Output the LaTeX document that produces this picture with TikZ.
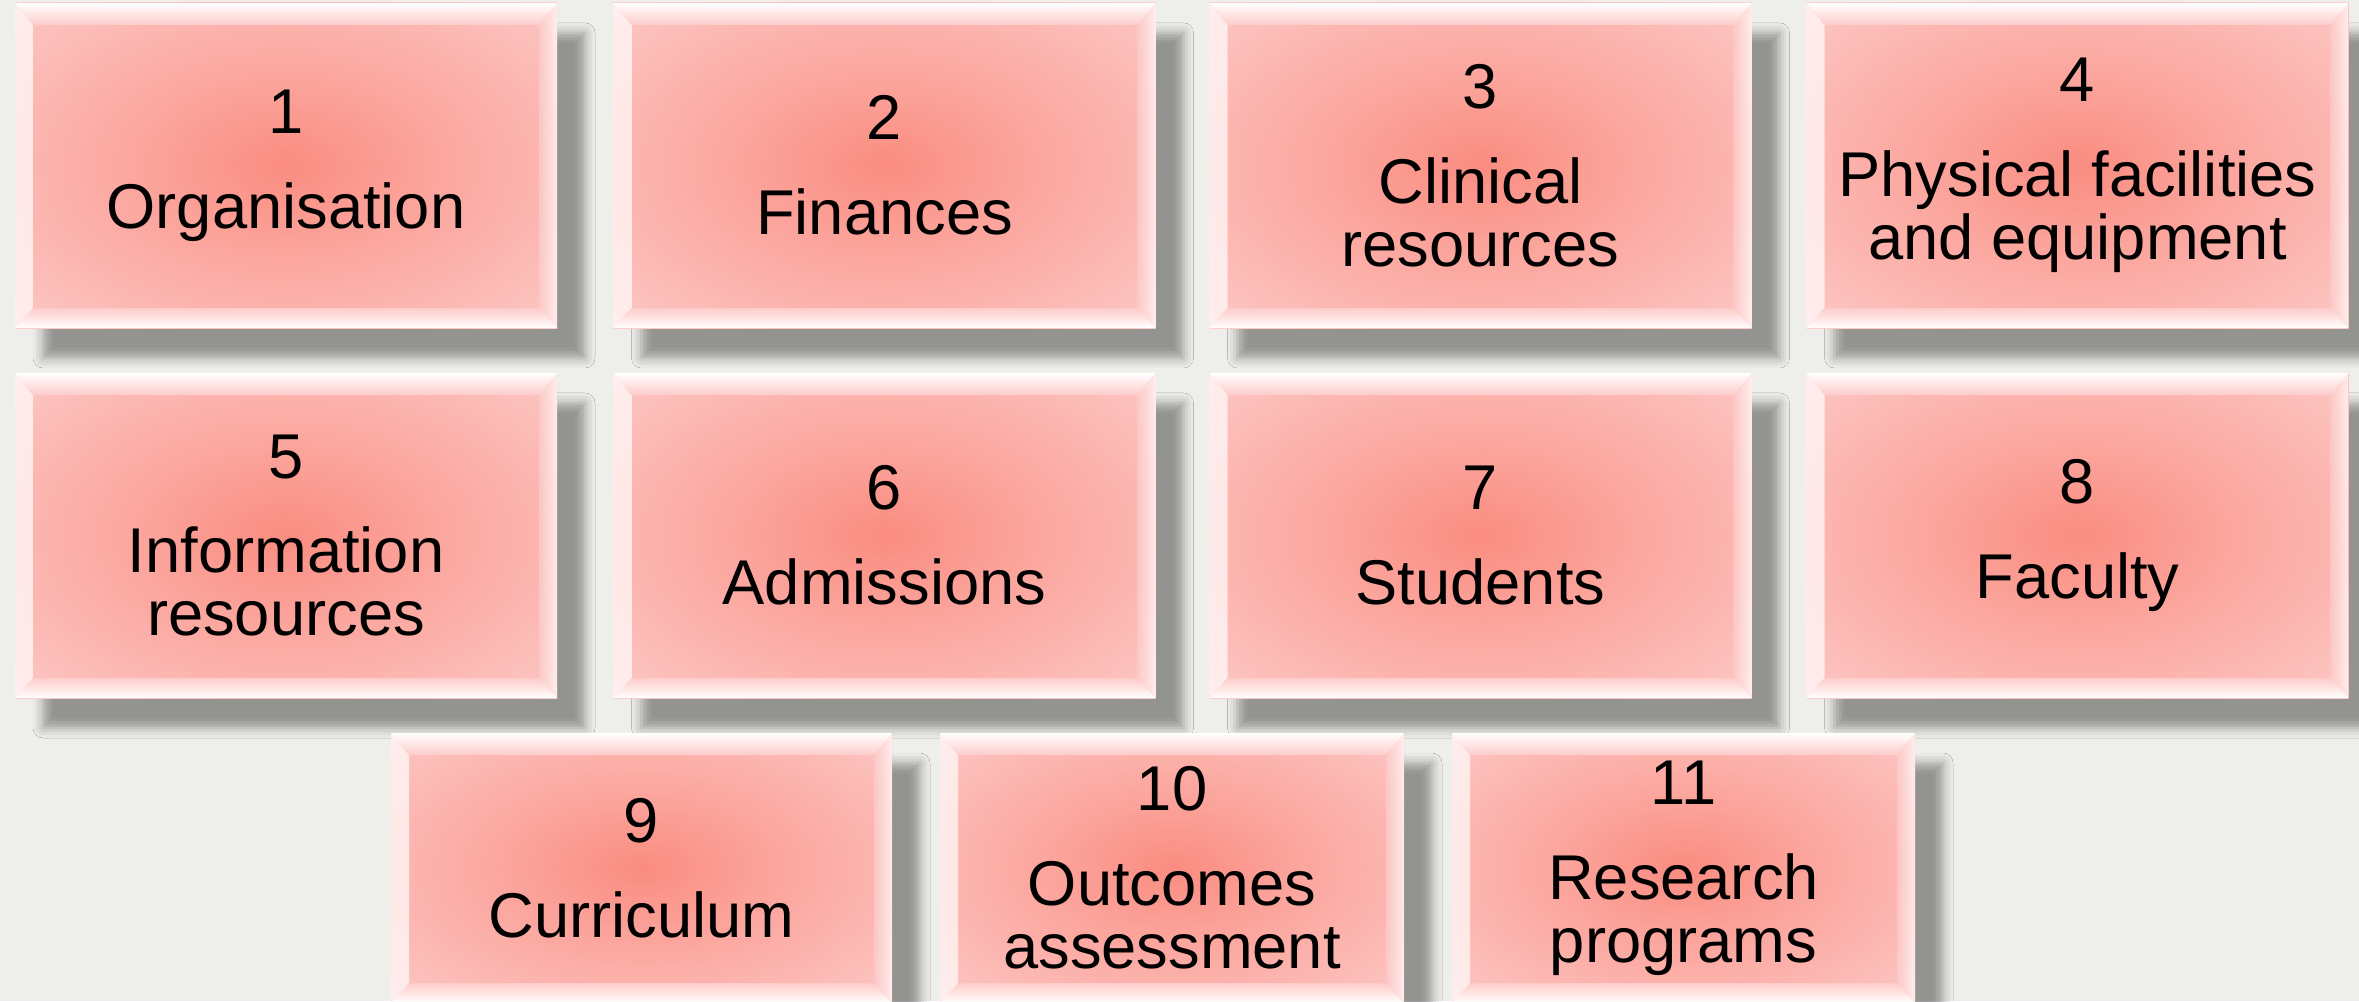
\documentclass[tikz,border=0pt]{standalone}
\usepackage{fontspec}
\setmainfont{Liberation Sans}
\usetikzlibrary{shadows.blur}
\definecolor{pagebg}{RGB}{238,238,234}
\definecolor{panelcore}{RGB}{250,140,128}
\definecolor{panelrim}{RGB}{253,204,202}
\pgfdeclareradialshading{panelglow}{\pgfpoint{0bp}{0bp}}{color(0bp)=(panelcore); color(12bp)=(panelcore!65!panelrim); color(38bp)=(panelrim); color(50bp)=(panelrim)}
\tikzset{
  panel/.style = {shade, shading = panelglow, align = center, inner sep = 0pt,
    minimum width = 5.42cm, minimum height = 3.25cm,
    font = \fontsize{18}{17.9}\selectfont,
    blur shadow = {shadow xshift = 0.28cm, shadow yshift = -0.3cm, shadow blur radius = 0.1cm, shadow opacity = 38},
    path picture = {
      % sides of the bevel
      \shade[left color = white, right color = panelrim, opacity = 0.7] (path picture bounding box.north west) -- ([shift = {(0.18,-0.22)}]path picture bounding box.north west) -- ([shift = {(0.18,0.2)}]path picture bounding box.south west) -- (path picture bounding box.south west) -- cycle;
      \shade[left color = panelrim, right color = white, opacity = 0.7] (path picture bounding box.north east) -- ([shift = {(-0.18,-0.22)}]path picture bounding box.north east) -- ([shift = {(-0.18,0.2)}]path picture bounding box.south east) -- (path picture bounding box.south east) -- cycle;
      % top and bottom of the bevel
      \shade[top color = white, bottom color = panelrim] (path picture bounding box.north west) -- (path picture bounding box.north east) -- ([shift = {(-0.18,-0.22)}]path picture bounding box.north east) -- ([shift = {(0.18,-0.22)}]path picture bounding box.north west) -- cycle;
      \shade[top color = panelrim, bottom color = white] (path picture bounding box.south west) -- (path picture bounding box.south east) -- ([shift = {(-0.18,0.2)}]path picture bounding box.south east) -- ([shift = {(0.18,0.2)}]path picture bounding box.south west) -- cycle;
    }},
  lowpanel/.style = {panel, minimum height = 2.70cm}
}
\begin{document}
\begin{tikzpicture}
\useasboundingbox (0,0) rectangle (23.59,10.01);
\fill[pagebg] (0,0) rectangle (23.59,10.01);
% first row
\node[panel] (organisation) at (2.86,8.355) {1\\[0.32cm]Organisation};
\node[panel] (finances) at (8.845,8.355) {2\\[0.32cm]Finances};
\node[panel] (clinical) at (14.805,8.355) {3\\[0.32cm]Clinical\\resources};
\node[panel] (facilities) at (20.775,8.355) {4\\[0.32cm]Physical facilities\\and equipment};
% second row
\node[panel] (information) at (2.86,4.655) {5\\[0.32cm]Information\\resources};
\node[panel] (admissions) at (8.845,4.655) {6\\[0.32cm]Admissions};
\node[panel] (students) at (14.805,4.655) {7\\[0.32cm]Students};
\node[panel] (faculty) at (20.775,4.655) {8\\[0.32cm]Faculty};
% third row
\node[lowpanel, minimum width = 5.01cm] (curriculum) at (6.415,1.33) {9\\[0.32cm]Curriculum};
\node[lowpanel, minimum width = 4.64cm] (outcomes) at (11.72,1.33) {10\\[0.32cm]Outcomes\\assessment};
\node[lowpanel, minimum width = 4.63cm] (research) at (16.835,1.33) {11\\[0.32cm]Research\\programs};
\end{tikzpicture}
\end{document}
